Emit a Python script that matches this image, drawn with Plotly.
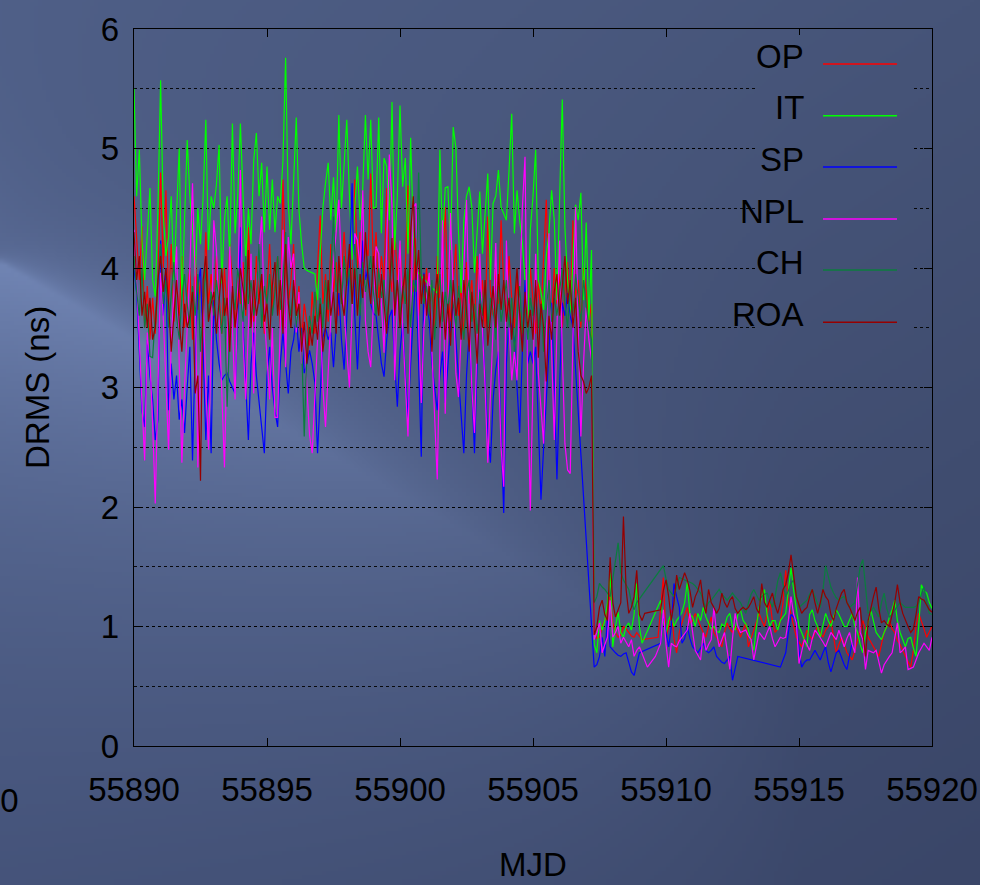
import base64, struct, zlib
import numpy as np
import plotly.graph_objects as go

# ---------------- data ----------------
MJD_START = 55890.0
MJD_STEP = 0.1
N_POINTS = 301
_ = None

series_names = ["OP", "IT", "SP", "NPL", "CH", "ROA"]
series_colors = ["#ff0000", "#00ff00", "#0000ff", "#ff00ff", "#0b7d3e", "#960000"]

OP = [
 4.6, 4.2, 3.9, 4.35, 3.5, 3.85, 3.4, 3.75, 3.45, 3.9,
 4.8, 4.0, 4.65, 3.7, 4.2, 3.55, 3.9, 3.6, 4.1, 3.5,
 3.8, 4.0, 3.4, 4.1, 3.65, 3.9, 3.5, 4.3, 3.7, 3.95,
 3.6, 4.1, 3.75, 3.45, 4.0, 3.6, 4.2, 3.8, 3.5, 3.9,
 3.7, 4.05, 3.6, 4.34, 3.85, 3.55, 4.1, 3.7, 3.9, 3.45,
 3.8, 4.2, 3.65, 3.9, 4.1, 3.5, 4.74, 4.0, 3.7, 3.9,
 4.2, 3.6, 3.85, 3.4, 3.7, 3.55, 3.35, 3.8, 3.45, 4.0,
 4.44, 3.7, 3.95, 3.55, 4.2, 3.8, 4.05, 3.6, 3.95, 4.3,
 3.9, 4.15, 3.7, 4.74, 4.0, 4.3, 3.85, 4.2, 4.1, 4.79,
 4.0, 4.3, 3.75, 4.1, 3.9, 4.67, 4.0, 3.8, 4.35, 3.9,
 4.2, 3.7, 4.0, 4.69, 4.1, 3.8, 4.25, 3.6, 3.95, 3.7,
 4.0, 3.6, 3.85, 3.5, 4.1, 3.75, 3.95, 4.51, 3.8, 3.55,
 3.9, 4.2, 3.6, 3.85, 3.4, 4.05, 3.7, 3.9, 3.5, 4.1,
 3.65, 3.9, 3.5, 4.43, 3.8, 3.6, 4.0, 3.7, 4.4, 3.85,
 3.6, 4.1, 3.75, 3.5, 3.9, 3.65, 3.4, 3.8, 3.55, 4.0,
 3.7, 3.45, 3.9, 3.6, 4.1, 4.57, 3.85, 3.6, 4.0, 3.7,
 3.95, 3.5, 3.8, 4.05, 3.6, 4.4, 3.75, 3.9, 3.5, 4.0,
 3.8, 3.55, 3.7, 0.95, 0.9, 0.91, 1.0, 1.05, 1.15, 1.28,
 1.03, 0.95, 0.91, 0.93, 1.0, 0.98, 0.95, 0.92, 0.91, 0.95,
 0.92, 0.89, _, _, _, _, _, 0.91, 1.2, 1.41,
 0.91, 1.0, 1.14, 0.9, 0.78, 0.95, 1.03, 1.1, 1.16, 1.03,
 1.05, 1.11, 1.05, 1.0, 0.95, 0.91, 1.0, 1.08, 0.95, 0.91,
 0.88, 0.83, 0.95, 1.03, 0.98, 0.95, 1.0, 0.97, 0.91, 0.97,
 1.03, 0.83, 0.9, 0.97, 1.05, 1.11, 1.05, 1.0, 1.1, 1.22,
 1.05, 0.95, 0.98, 1.05, 1.2, 1.47, 1.2, 1.11, 1.0, 0.91,
 0.87, 0.83, 0.9, 0.97, 0.92, 0.89, 0.95, 1.0, 0.95, 0.91,
 0.97, 1.0, 1.05, 0.9, 0.78, 0.85, 0.91, 0.85, 0.78, 0.75,
 0.72, 0.8, 0.89, 0.97, 1.05, 0.98, 0.91, 0.87, 0.83, 0.8,
 0.75, 0.85, 0.95, 1.0, 1.05, 0.98, 0.95, 0.88, 0.85, 0.8,
 0.75, 0.7, 0.66, 0.8, 1.0, 1.11, 1.05, 0.98, 0.91, 0.95,
 1.0,
]

IT = [
 5.5, 4.6, 4.99, 4.23, 3.9, 4.3, 4.67, 3.9, 3.76, 4.5,
 5.57, 4.46, 4.1, 4.26, 4.6, 3.9, 4.5, 5.0, 3.73, 4.4,
 5.07, 4.6, 4.32, 3.93, 4.5, 4.2, 4.6, 5.24, 4.15, 4.6,
 4.5, 4.7, 5.03, 3.87, 4.4, 4.6, 4.1, 5.21, 4.29, 4.6,
 5.21, 4.6, 4.07, 4.5, 4.2, 4.9, 5.13, 4.6, 4.88, 4.3,
 4.85, 4.32, 4.74, 4.3, 4.6, 4.54, 4.9, 5.76, 4.54, 4.2,
 4.8, 5.26, 4.49, 4.2, 4.0, 3.98, 3.97, 3.96, 3.95, 3.73,
 4.1, 4.5, 4.71, 4.88, 4.4, 4.76, 4.3, 5.28, 4.5, 4.9,
 5.24, 4.6, 4.07, 4.5, 4.85, 4.4, 4.67, 5.28, 4.74, 5.24,
 4.5, 4.51, 5.26, 4.29, 4.92, 4.85, 4.4, 5.39, 4.15, 4.6,
 5.36, 4.68, 4.92, 4.12, 5.09, 4.3, 3.98, _, _, _,
 _, _, _, _, 3.79, 4.99, 4.23, 4.67, 4.68, 4.15,
 5.18, 5.01, 4.3, 3.79, 4.4, 4.6, 4.68, 4.51, 3.96, 4.3,
 4.64, 4.12, 4.5, 4.79, 3.9, 4.54, 4.6, 4.82, 4.51, 4.45,
 4.4, 4.82, 5.29, 4.29, 4.65, 4.4, 4.21, 3.9, 3.4, 4.32,
 4.6, 4.99, 3.9, 3.8, 3.65, 4.1, 4.3, 4.65, 4.4, 3.73,
 4.6, 5.41, 4.34, 3.9, 3.59, 4.1, 4.53, 4.4, 4.63, 3.73,
 4.38, 3.56, 4.15, 0.85, 0.78, 1.05, 0.97, 1.05, 1.2, 1.45,
 0.83, 1.0, 1.12, 0.95, 0.91, 1.0, 1.03, 0.97, 1.1, 1.36,
 1.0, 0.86, _, _, _, _, _, 1.18, 1.22, 1.05,
 0.94, 1.05, 1.11, 1.0, 1.05, 1.08, 1.12, 1.2, 1.37, 1.1,
 1.08, 1.0, 1.11, 1.05, 1.16, 1.08, 1.03, 0.98, 1.0, 0.96,
 0.95, 1.02, 1.0, 1.08, 1.11, 1.0, 0.97, 1.1, 1.14, 1.05,
 1.02, 0.97, 0.88, 0.8, 1.0, 1.16, 1.25, 1.31, 1.1, 1.0,
 1.05, 1.05, 0.97, 1.05, 1.08, 1.11, 1.3, 1.49, 1.3, 1.16,
 1.0, 0.95, 0.88, 0.83, 1.1, 1.14, 1.05, 1.0, 0.91, 1.0,
 1.11, 1.05, 1.0, 1.08, 1.14, 1.1, 1.05, 1.0, 1.0, 1.06,
 1.11, 1.0, 0.95, 0.85, 0.78, 0.95, 1.03, 1.14, 1.05, 0.95,
 0.92, 0.89, 0.95, 1.0, 1.08, 1.14, 1.22, 1.05, 0.95, 0.88,
 0.83, 0.9, 0.91, 0.82, 0.75, 1.0, 1.35, 1.3, 1.28, 1.2,
 1.15,
]

SP = [
 4.0, 3.79, 3.3, 2.8, 2.67, 3.4, 3.09, 2.9, 2.56, 2.73,
 4.23, 3.6, 4.0, 2.81, 3.2, 2.9, 3.1, 2.73, 2.9, 2.62,
 3.0, 3.34, 2.39, 3.3, 3.84, 4.0, 3.3, 2.56, 3.1, 2.45,
 3.73, 3.4, 3.2, 3.06, 3.1, 3.12, 3.05, 3.0, 2.95, 3.6,
 4.34, 3.5, 3.0, 2.56, 3.2, 3.46, 3.1, 2.9, 2.7, 2.45,
 3.1, 3.34, 3.0, 2.8, 2.67, 3.2, 3.46, 3.2, 2.95, 3.3,
 3.4, 3.59, 3.3, 3.5, 3.12, 3.2, 3.31, 3.2, 3.04, 2.45,
 3.0, 3.42, 3.5, 3.4, 3.46, 3.17, 3.5, 3.79, 3.4, 3.15,
 3.6, 4.0, 4.71, 3.6, 3.15, 3.62, 4.23, 3.9, 4.0, 3.7,
 3.62, 3.6, 3.4, 3.2, 3.09, 3.4, 3.59, 3.65, 3.2, 2.84,
 3.3, 3.54, 3.1, 2.75, 3.2, 3.6, 3.98, 3.2, 2.42, 3.96,
 3.7, 3.56, 3.2, 3.0, 2.81, 3.1, 3.3, 2.87, 3.2, 3.5,
 3.71, 3.4, 3.12, 2.8, 2.45, 3.1, 3.46, 3.0, 2.45, 3.2,
 3.82, 3.5, 3.0, 2.6, 2.37, 2.9, 3.15, 3.3, 2.6, 1.95,
 3.2, 3.59, 3.5, 3.4, 3.0, 2.62, 3.3, 3.9, 3.2, 3.3,
 3.2, 3.34, 2.7, 2.06, 2.5, 2.9, 3.3, 3.71, 3.0, 2.23,
 3.0, 3.71, 3.6, 3.79, 3.6, 3.51, _, _, _, _,
 _, _, _, 0.66, 0.68, 0.75, 0.91, 0.75, 1.08, 0.83,
 0.8, 0.78, 0.76, 0.75, 0.77, 0.78, 0.7, 0.62, 0.59, 0.7,
 0.78, _, _, _, _, _, _, _, 0.86, 1.11,
 0.95, 0.83, 1.0, 1.36, 1.25, 1.16, 0.86, 0.9, 1.0, 0.9,
 0.83, 0.8, 0.78, 0.82, 0.86, 0.8, 0.78, 0.8, 0.83, 0.75,
 0.72, 0.7, 0.69, 0.72, 0.75, 0.55, 0.65, 0.75, _, _,
 _, _, _, _, _, _, _, _, _, _,
 _, _, _, 0.66, 0.72, 0.78, 0.95, 1.1, 1.08, 1.05,
 0.8, 0.66, 0.7, 0.72, 0.72, 0.76, 0.8, 0.76, 0.72, 0.78,
 0.83, 0.7, 0.62, 0.7, 0.78, 0.8, 0.74, 0.68, 0.64, 0.75,
 0.87, _, _, _, _, _, _, _, _, _,
 _, _, _, _, _, _, _, _, _, _,
 _, _, _, _, _, _, _, _, _, _,
 _,
]

NPL = [
 4.32, 3.9, 3.4, 2.87, 2.39, 3.46, 3.23, 2.7, 2.03, 3.0,
 3.96, 3.59, 3.0, 2.48, 3.4, 3.8, 4.18, 3.2, 2.37, 3.0,
 3.46, 4.0, 4.71, 3.9, 2.33, 3.2, 3.76, 3.0, 2.48, 3.3,
 4.4, 4.15, 3.6, 2.9, 2.33, 3.3, 4.18, 3.5, 2.9, 3.8,
 4.82, 3.4, 2.9, 3.5, 4.12, 2.95, 3.84, 4.12, 4.43, 3.6,
 3.2, 2.9, 3.5, 2.75, 2.75, 3.5, 4.32, 3.17, 4.26, 4.0,
 4.12, 3.46, 3.8, 3.2, 3.54, 3.0, 2.6, 2.45, 3.0, 3.4,
 3.62, 3.0, 2.67, 3.12, 3.6, 4.04, 4.3, 4.57, 4.0, 3.62,
 3.3, 3.0, 3.6, 4.29, 4.23, 4.0, 4.65, 3.56, 3.3, 3.17,
 3.7, 4.18, 4.12, 3.7, 3.29, 4.2, 4.95, 4.51, 3.06, 3.7,
 4.23, 3.5, 3.0, 2.59, 3.5, 4.51, 4.54, 3.5, 2.87, 3.5,
 3.79, 3.96, 3.3, 2.7, 2.23, 3.34, 4.4, 2.78, 3.6, 4.46,
 3.8, 3.12, 2.92, 3.4, 4.0, 4.57, 3.6, 3.0, 2.62, 3.4,
 4.12, 3.48, 3.0, 2.37, 2.9, 3.5, 4.21, 3.2, 2.5, 2.17,
 4.23, 3.5, 3.06, 3.3, 3.06, 3.8, 4.5, 4.93, 3.0, 1.97,
 3.0, 4.12, 3.12, 2.8, 2.53, 3.4, 4.29, 3.3, 2.56, 3.5,
 4.23, 3.3, 2.53, 2.31, 2.28, 3.4, 4.51, 3.5, 2.59, 3.2,
 3.67, 3.4, 3.23, 0.89, 0.95, 1.03, 0.78, 0.85, 0.91, 1.22,
 0.91, 0.95, 1.0, 0.86, 0.91, 0.87, 0.83, 0.89, 0.75, 0.8,
 0.83, _, _, 0.66, _, _, 0.75, _, 0.86, 1.14,
 0.85, 0.66, 0.86, 0.84, 0.83, 0.88, 0.91, 0.94, 0.97, 1.11,
 0.95, 0.8, 0.76, 0.72, 0.95, 0.8, 0.85, 0.89, 1.16, 0.95,
 0.83, 0.9, 0.95, 0.8, 0.64, 0.9, 1.11, 1.0, 0.95, 0.96,
 0.97, 0.92, 0.89, 0.72, 0.85, 0.95, 0.92, 0.89, 0.95, 1.0,
 0.9, 0.83, 0.87, 0.91, 0.9, 0.91, 1.05, 1.25, 1.1, 1.03,
 0.69, 0.8, 0.89, 0.85, 0.8, 0.9, 0.97, 0.94, 0.91, 0.87,
 0.83, 0.9, 0.95, 0.92, 0.89, 0.97, 0.9, 0.83, 0.9, 0.95,
 0.85, 0.78, 1.41, 0.95, 0.89, 0.64, 0.8, 0.79, 0.78, 0.8,
 0.7, 0.61, 0.68, 0.72, 0.75, 0.78, 0.9, 1.03, 0.78, 0.8,
 0.83, 0.64, 0.65, 0.66, 0.72, 0.78, 0.82, 0.86, 0.83, 0.8,
 0.91,
]

CH = [
 4.1, 3.8, 3.6, 4.0, 3.5, 3.7, 3.26, 3.25, 3.6, 3.9,
 4.2, 3.7, 3.9, 3.5, 3.8, 4.05, 3.6, 3.4, 3.75, 3.95,
 3.7, 3.5, 3.85, 3.6, 3.95, 3.3, 3.7, 4.0, 3.55, 3.8,
 3.6, 3.9, 3.7, 3.45, 3.75, 2.84, 3.5, 3.8, 3.65, 4.0,
 3.8, 3.55, 4.1, 3.7, 3.9, 3.6, 3.75, 4.2, 3.5, 3.85,
 3.7, 3.95, 3.6, 3.8, 4.1, 3.65, 3.9, 4.3, 3.75, 3.6,
 3.85, 3.5, 3.7, 3.4, 2.59, 3.3, 3.6, 3.45, 3.8, 3.55,
 3.75, 3.5, 3.9, 3.65, 4.0, 4.43, 3.8, 3.95, 3.7, 4.1,
 3.85, 4.0, 3.7, 4.2, 3.9, 3.6, 4.05, 3.8, 3.95, 4.1,
 3.8, 3.6, 4.0, 3.75, 3.9, 3.55, 3.8, 4.1, 3.7, 3.9,
 3.6, 3.85, 3.7, 4.0, 3.5, 3.9, 3.8, 4.8, 3.95, 3.7,
 3.85, 3.6, 3.9, 3.4, 3.75, 3.95, 3.55, 3.8, 3.65, 3.9,
 3.7, 3.5, 3.85, 3.6, 3.4, 3.75, 3.9, 3.55, 3.7, 3.45,
 3.8, 3.6, 3.9, 3.5, 3.75, 3.65, 3.4, 3.85, 3.55, 3.7,
 3.9, 3.5, 3.75, 3.3, 3.6, 3.85, 3.45, 3.7, 3.4, 3.75,
 3.6, 3.85, 3.5, 3.7, 3.3, 3.65, 3.9, 3.55, 3.75, 3.6,
 3.8, 4.0, 3.7, 3.5, 3.85, 3.6, 3.95, 3.75, 3.55, 3.9,
 3.7, 3.5, 3.4, 1.2, 1.25, 1.36, 1.33, 1.31, 1.28, 1.25,
 1.4, 1.55, 1.7, 1.45, 1.39, 1.35, 1.31, 1.2, 1.14, 1.2,
 _, _, _, _, _, _, _, _, _, 1.51,
 1.4, 1.31, 1.28, 1.25, 1.33, 1.41, 1.4, 1.39, 1.38, 1.37,
 1.36, 1.34, 1.31, 1.28, 1.22, 1.16, 1.2, 1.22, 1.25, 1.28,
 1.31, 1.27, 1.24, 1.22, 1.25, 1.28, 1.25, 1.22, 1.2, 1.15,
 1.11, 1.2, 1.27, 1.31, 1.27, 1.22, 1.25, 1.27, 1.28, 1.22,
 1.16, 1.25, 1.38, 1.45, 1.35, 1.25, 1.3, 1.36, 1.39, 1.28,
 1.16, 1.18, 1.2, 1.22, 1.27, 1.31, 1.25, 1.19, 1.16, 1.3,
 1.51, 1.42, 1.33, 1.28, 1.24, 1.22, 1.24, 1.25, 1.2, 1.16,
 1.18, 1.2, 1.35, 1.5, 1.56, 1.3, 1.11, 1.13, 1.16, 1.12,
 1.08, 1.2, 1.28, 1.15, 1.08, 1.1, 1.14, 1.17, 1.2, 1.18,
 1.16, 1.16, 1.16, 1.16, 1.17, 1.2, 1.27, 1.33, 1.2, 1.11,
 1.1,
]

ROA = [
 4.3, 3.9, 4.1, 3.6, 3.8, 3.5, 3.75, 3.4, 3.5, 3.9,
 4.1, 3.8, 4.0, 3.7, 3.3, 3.6, 3.9, 3.55, 3.3, 3.7,
 3.5, 3.6, 3.8, 2.95, 3.1, 2.22, 3.9, 4.1, 3.55, 3.7,
 3.8, 3.45, 3.7, 4.0, 3.6, 3.75, 3.3, 3.85, 3.5, 3.7,
 4.0, 3.8, 3.65, 4.15, 3.5, 3.9, 3.6, 3.75, 3.95, 3.55,
 3.7, 3.4, 3.85, 4.05, 3.6, 3.9, 3.45, 4.2, 3.7, 3.5,
 3.9, 3.6, 3.7, 3.3, 3.55, 3.2, 3.5, 3.35, 3.6, 3.4,
 3.7, 3.3, 3.5, 3.9, 3.6, 3.8, 3.45, 4.1, 3.75, 3.6,
 3.9, 4.2, 3.7, 4.0, 3.6, 3.95, 3.75, 4.3, 3.9, 3.7,
 4.1, 3.8, 3.6, 3.95, 3.7, 3.45, 3.8, 4.25, 3.6, 3.9,
 3.5, 3.8, 4.0, 3.45, 4.3, 4.6, 3.9, 4.15, 3.7, 3.95,
 3.6, 3.85, 3.3, 3.75, 3.95, 3.5, 3.8, 3.4, 3.7, 3.35,
 3.9, 3.6, 3.75, 3.4, 3.9, 3.65, 3.3, 3.8, 3.55, 3.2,
 3.7, 3.5, 3.9, 3.35, 3.6, 3.85, 3.5, 3.95, 3.65, 3.9,
 3.55, 3.75, 3.4, 3.7, 4.0, 3.6, 3.3, 3.8, 3.5, 3.65,
 3.4, 3.9, 3.25, 3.7, 3.5, 3.05, 3.6, 3.4, 3.8, 3.95,
 3.6, 3.85, 4.1, 3.7, 3.9, 3.5, 3.75, 3.3, 3.1, 3.05,
 2.95, 3.0, 3.1, 0.93, 1.0, 1.16, 1.22, 1.1, 1.05, 1.58,
 1.2, 1.08, 1.15, 1.2, 1.92, 1.31, 1.11, 1.16, 1.25, 1.47,
 1.1, 1.05, 1.11, _, _, _, _, _, 1.14, 1.3,
 1.39, 1.25, 1.05, 1.2, 1.43, 1.31, 1.38, 1.45, 1.39, 1.3,
 1.16, 1.25, 1.3, 1.39, 1.2, 1.11, 1.31, 1.2, 1.16, 1.11,
 1.15, 1.28, 1.2, 1.16, 1.22, 1.25, 1.15, 1.11, 1.14, 1.16,
 1.14, 1.16, 1.2, 1.25, 1.15, 1.11, 1.36, 1.2, 1.16, 1.22,
 1.28, 1.18, 1.11, 1.2, 1.31, 1.35, 1.45, 1.6, 1.4, 1.25,
 1.18, 1.11, 1.14, 1.16, 1.25, 1.31, 1.2, 1.11, 1.2, 1.31,
 1.25, 1.22, 1.1, 1.05, 1.15, 1.22, 1.28, 1.31, 1.2, 1.16,
 1.1, 1.05, 1.12, 1.16, 0.95, 0.75, 1.05, 1.16, 1.25, 1.33,
 1.15, 1.03, 1.05, 1.02, 1.0, 1.1, 1.2, 1.35, 1.2, 1.11,
 1.05, 1.0, 0.95, 0.98, 1.1, 1.25, 1.23, 1.22, 1.18, 1.14,
 1.12,
]

x_tick_values = [55890, 55895, 55900, 55905, 55910, 55915, 55920]
y_tick_values = [0, 1, 2, 3, 4, 5, 6]

series_values = [OP, IT, SP, NPL, CH, ROA]
for nm, vals in zip(series_names, series_values):
    assert len(vals) == N_POINTS, (nm, len(vals))

mjd = [round(MJD_START + MJD_STEP * i, 1) for i in range(N_POINTS)]

# ---------------- layout geometry ----------------
W, H = 998, 885
L, R, T, B = 134, 932, 29, 746
PW, PH = R - L, B - T


def px(x):
    return (x - L) / PW


def py(y):
    return (B - y) / PH


# ---------------- slide background (decoration) ----------------
def bg_rgb(X, Y):
    top = np.array([70.0, 84.0, 120.0])
    bot = np.array([58.0, 70.0, 104.0])
    t = (Y / 885.0)[..., None]
    left = np.clip(1.0 - X / 980.0, 0, 1)[..., None]
    base = top * (1 - t) + bot * t + left * np.array([8.0, 10.0, 14.0])
    light = np.array([128.0, 150.0, 200.0])
    d = Y - (262.0 + 0.58 * X)
    f = np.clip(1.0 - X / 800.0, 0.0, 1.0)
    s = 4.0 + 0.35 * X  # edge softness grows to the right
    dn = np.minimum(d, 0)
    g_above = 0.28 * np.exp(dn / 120.0) + 0.44 * np.exp(dn / s)
    g_below = 0.72 * np.exp(-np.maximum(d, 0) / 235.0)
    g = np.where(d >= 0, g_below, g_above) * f
    img = base + (light - base) * g[..., None]
    return np.clip(img, 0, 255).astype(np.uint8)


def png_uri(x0, x1, y0, y1, bw, bh):
    xs = x0 + (np.arange(bw) + 0.5) * (x1 - x0) / bw
    ys = y0 + (np.arange(bh) + 0.5) * (y1 - y0) / bh
    X, Y = np.meshgrid(xs, ys)
    img = bg_rgb(X, Y)
    raw = b"".join(b"\x00" + img[r].tobytes() for r in range(bh))

    def chunk(tag, data):
        return (struct.pack(">I", len(data)) + tag + data
                + struct.pack(">I", zlib.crc32(tag + data) & 0xFFFFFFFF))

    png = (b"\x89PNG\r\n\x1a\n"
           + chunk(b"IHDR", struct.pack(">IIBBBBB", bw, bh, 8, 2, 0, 0, 0))
           + chunk(b"IDAT", zlib.compress(raw, 9))
           + chunk(b"IEND", b""))
    return "data:image/png;base64," + base64.b64encode(png).decode()


bg_src = png_uri(0, 980, 0, 885, 245, 222)
LB = (757, 914, 35, 340)  # legend box (px)
box_src = png_uri(LB[0], LB[1], LB[2], LB[3], 80, 152)

FONT = "Liberation Sans, Arial, sans-serif"
FS = 33

fig = go.Figure()
for nm, vals, col in zip(series_names, series_values, series_colors):
    fig.add_trace(go.Scatter(
        x=mjd, y=vals, mode="lines", name=nm, connectgaps=True,
        line=dict(color=col, width=1.2), showlegend=False,
    ))

images = [
    dict(source=bg_src, xref="paper", yref="paper", x=px(0), y=py(0),
         sizex=980 / PW, sizey=885 / PH, xanchor="left", yanchor="top",
         sizing="stretch", layer="below"),
    dict(source=box_src, xref="paper", yref="paper", x=px(LB[0]), y=py(LB[2]),
         sizex=(LB[1] - LB[0]) / PW, sizey=(LB[3] - LB[2]) / PH,
         xanchor="left", yanchor="top", sizing="stretch", layer="above"),
]

# manual legend: label on the left, line sample on the right
legend_line_y = [64, 115.7, 167, 219, 270, 322.3]
shapes = []
annotations = []
for nm, col, ly in zip(series_names, series_colors, legend_line_y):
    shapes.append(dict(type="line", xref="paper", yref="paper",
                       x0=px(823), x1=px(897), y0=py(ly), y1=py(ly),
                       line=dict(color=col, width=1.6), layer="above"))
    annotations.append(dict(text=nm, xref="paper", yref="paper",
                            x=px(806), y=py(ly - 8), xanchor="right", yanchor="middle",
                            showarrow=False, font=dict(family=FONT, size=FS, color="black")))

annotations.append(dict(text="DRMS (ns)", xref="paper", yref="paper",
                        x=px(38), y=py(388), xanchor="center", yanchor="middle",
                        textangle=-90, showarrow=False,
                        font=dict(family=FONT, size=FS, color="black")))
annotations.append(dict(text="MJD", xref="paper", yref="paper",
                        x=px(533), y=py(885), xanchor="center", yanchor="bottom",
                        showarrow=False, font=dict(family=FONT, size=FS, color="black")))
annotations.append(dict(text="20", xref="paper", yref="paper",
                        x=px(21), y=py(800), xanchor="right", yanchor="middle",
                        showarrow=False, font=dict(family=FONT, size=FS, color="black")))

fig.update_layout(
    width=W, height=H,
    margin=dict(l=L, r=W - R, t=T, b=H - B, autoexpand=False),
    paper_bgcolor="#ffffff",
    plot_bgcolor="rgba(0,0,0,0)",
    images=images, shapes=shapes, annotations=annotations,
    showlegend=False,
    xaxis=dict(
        range=[55890, 55920], tickmode="array", tickvals=x_tick_values,
        ticktext=[str(v) for v in x_tick_values],
        ticks="inside", ticklen=8, tickwidth=1, tickcolor="black",
        showline=True, linecolor="black", linewidth=1.4, mirror="ticks",
        showgrid=False, zeroline=False,
        tickfont=dict(family=FONT, size=FS, color="black"),
        ticklabelstandoff=14,
    ),
    yaxis=dict(
        range=[0, 6], tickmode="array", tickvals=y_tick_values,
        ticktext=[str(v) for v in y_tick_values],
        ticks="inside", ticklen=8, tickwidth=1, tickcolor="black",
        showline=True, linecolor="black", linewidth=1.4, mirror="ticks",
        showgrid=True, gridcolor="rgba(0,0,0,0.9)", gridwidth=1, griddash="3px,3px",
        minor=dict(dtick=0.5, tick0=0, showgrid=True, gridcolor="rgba(0,0,0,0.9)",
                   gridwidth=1, griddash="3px,3px", ticks=""),
        zeroline=False,
        tickfont=dict(family=FONT, size=FS, color="black"),
        ticklabelstandoff=7,
    ),
)

fig.write_html("out.html")
